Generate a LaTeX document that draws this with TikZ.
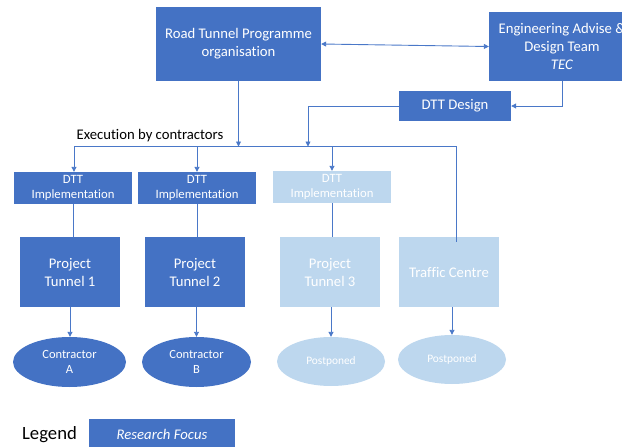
\documentclass[tikz,border=0pt]{standalone}
\usepackage{fontspec}
\setmainfont{Carlito}[Ligatures=NoCommon]
\usetikzlibrary{arrows.meta,shapes.geometric}
\definecolor{darkblue}{HTML}{4472C4}
\definecolor{paleblue}{HTML}{BDD7EE}
\definecolor{linkblue}{HTML}{4A78C8}
\begin{document}
\begin{tikzpicture}[x=1pt,y=-1pt,
  boxbase/.style={rectangle,inner sep=0pt,align=center,text=white},
  darkbox/.style={boxbase,fill=darkblue},
  lightbox/.style={boxbase,fill=paleblue},
  darkoval/.style={ellipse,inner sep=0pt,align=center,text=white,fill=darkblue},
  lightoval/.style={ellipse,inner sep=0pt,align=center,text=white,fill=paleblue},
  bigtext/.style={font=\fontsize{14.7}{18}\selectfont},
  impltext/.style={font=\fontsize{12.7}{15.3}\selectfont},
  ovaltext/.style={font=\fontsize{12.5}{15}\selectfont},
  linktip/.style={-{Triangle[length=5pt,width=5pt]}},
  link/.style={draw=linkblue,line width=0.9pt}]
\useasboundingbox (0,0) rectangle (622,447);

% top level
\node[darkbox,bigtext,minimum width=165pt,minimum height=74pt] (rtp) at (238.5,44)
  {Road Tunnel Programme\\organisation};
\node[darkbox,bigtext,minimum width=146pt,minimum height=69pt] (eadt) at (562,46.5)
  {Engineering Advise \&\\Design Team\\\textit{TEC}};
\node[darkbox,bigtext,minimum width=112pt,minimum height=30pt] (dttd) at (455,106)
  {DTT Design};

% distribution bus
\coordinate (bus) at (0,146.5);
\coordinate (busL) at (74,146.5);
\coordinate (busR) at (456,146.5);
\coordinate (dtbend) at (308,106);
\node[bigtext,anchor=center] (exec) at (150,136) {Execution by contractors};

% implementation boxes
\node[darkbox,impltext,minimum width=118pt,minimum height=32pt] (impl1) at (73,188) {DTT\\Implementation};
\node[darkbox,impltext,minimum width=118pt,minimum height=32pt] (impl2) at (197,188) {DTT\\Implementation};
\node[lightbox,impltext,minimum width=118pt,minimum height=32pt] (impl3) at (332,187) {DTT\\Implementation};

% projects
\node[darkbox,bigtext,minimum width=100pt,minimum height=70pt] (pt1) at (70,272) {Project\\Tunnel 1};
\node[darkbox,bigtext,minimum width=100pt,minimum height=70pt] (pt2) at (195,272) {Project\\Tunnel 2};
\node[lightbox,bigtext,minimum width=100pt,minimum height=70pt] (pt3) at (330,272) {Project\\Tunnel 3};
\node[lightbox,bigtext,minimum width=100pt,minimum height=70pt] (tc) at (449,272) {Traffic Centre};

% contractors
\node[darkoval,ovaltext,minimum width=113pt,minimum height=50pt] (c1) at (69.5,362) {Contractor\\A};
\node[darkoval,ovaltext,minimum width=109pt,minimum height=50pt] (c2) at (196.5,362) {Contractor\\B};
\node[lightoval,font=\fontsize{11.4}{14}\selectfont,minimum width=108pt,minimum height=49pt] (p3) at (331,361.5) {Postponed};
\node[lightoval,font=\fontsize{11.4}{14}\selectfont,minimum width=108pt,minimum height=49pt] (p4) at (452,359.5) {Postponed};

% legend
\node[font=\fontsize{18.7}{22}\selectfont] (legend) at (49.5,435) {Legend};
\node[darkbox,bigtext,minimum width=146pt,minimum height=30pt] (legbox) at (162,434) {\textit{Research Focus}};

% connectors
\draw[link,{Triangle[length=5pt,width=5pt]}-{Triangle[length=5pt,width=5pt]}] (rtp.east) -- (eadt.west);
\draw[link,linktip] (eadt.south) |- (dttd.east);
\draw[link,linktip] (dttd.west) -- (dtbend) -- (dtbend |- bus);
\draw[link,linktip] (rtp.south) -- (rtp.south |- bus);
\draw[link] (busL) -- (busR) -- ([yshift=-5pt]busR |- tc.north);
\draw[link,linktip] (busL) -- (busL |- impl1.north);
\draw[link,linktip] (impl2.north |- bus) -- (impl2.north);
\draw[link,linktip] (impl3.north |- bus) -- (impl3.north);
\draw[link] (impl1.south) -- (impl1.south |- pt1.north);
\draw[link] (impl2.south) -- (impl2.south |- pt2.north);
\draw[link] (impl3.south) -- (impl3.south |- pt3.north);
\draw[link,linktip] (pt1.south) -- (pt1.south |- c1.north);
\draw[link,linktip] (c2.north |- pt2.south) -- (c2.north);
\draw[link,linktip] (p3.north |- pt3.south) -- (p3.north);
\draw[link,linktip] (p4.north |- tc.south) -- (p4.north);
\end{tikzpicture}
\end{document}
